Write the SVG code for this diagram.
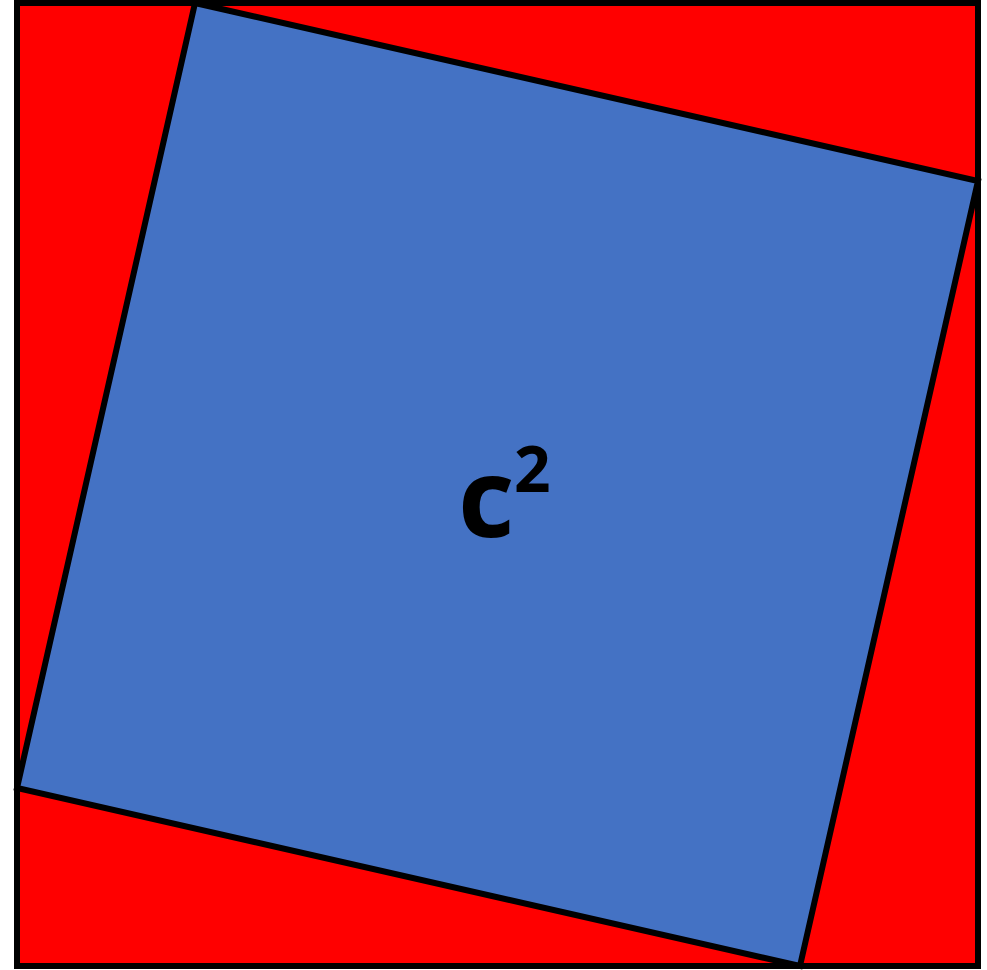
<svg xmlns="http://www.w3.org/2000/svg" width="987" height="970" viewBox="0 0 987 970">
<style>
.shape{stroke:#000;stroke-width:6;stroke-linejoin:miter}
.lbl{font-family:"Open Sans","Noto Sans",sans-serif;font-weight:bold;fill:#000}
</style>
<rect width="987" height="970" fill="#fff"/>
<g id="outer-square">
<rect class="shape" x="17" y="3" width="961" height="963" fill="#ff0000"/>
</g>
<g id="inner-square">
<polygon class="shape" points="195,3 978,181 800,966 17,788" fill="#4472c4"/>
<text class="lbl" x="458" y="537" font-size="110">c</text>
<text class="lbl" x="514" y="492" font-size="64">2</text>
</g>
</svg>
